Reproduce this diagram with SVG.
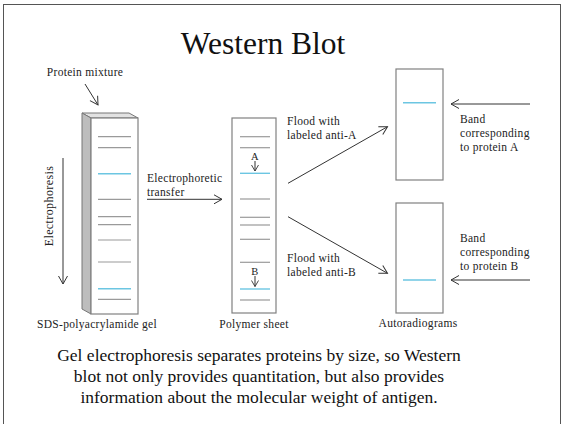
<svg xmlns="http://www.w3.org/2000/svg" width="564" height="424" viewBox="0 0 564 424">
<defs>
<marker id="ah" markerUnits="userSpaceOnUse" markerWidth="12" markerHeight="12" refX="9" refY="5" orient="auto" viewBox="0 0 12 10">
<path d="M1,0.5 L9,5 L1,9.5" fill="none" stroke="#333" stroke-width="1"/>
</marker>
<marker id="ahs" markerUnits="userSpaceOnUse" markerWidth="10" markerHeight="10" refX="7" refY="4" orient="auto" viewBox="0 0 10 8">
<path d="M1,0.5 L7,4 L1,7.5" fill="none" stroke="#333" stroke-width="0.9"/>
</marker>
<style>
.lbl{font-family:"Liberation Serif","Times New Roman",serif;font-size:11.5px;letter-spacing:0.3px;fill:#222}
.band{stroke:#9a9a9a;stroke-width:1.2}
.blue{stroke:#6cc6e2;stroke-width:1.4}
.sheet{fill:#fff;stroke:#808080;stroke-width:1.2}
.conn{stroke:#333;stroke-width:1;fill:none}
</style>
</defs>
<rect x="0" y="0" width="564" height="424" fill="#fff"/>
<rect x="3.5" y="4.5" width="557" height="430" fill="#fff" stroke="#555" stroke-width="1"/>
<text x="263" y="54" text-anchor="middle" font-family="Liberation Serif,Times New Roman,serif" font-size="31.5" fill="#111">Western Blot</text>

<g id="gel">
<polygon points="82,113 129,113 138,118 91,118" fill="#e2e2e2" stroke="#777" stroke-width="1"/>
<polygon points="82,113 91,118 91,314 82,309" fill="#bdbdbd" stroke="#777" stroke-width="1"/>
<rect x="91" y="118" width="47" height="196" class="sheet"/>
<line x1="98" y1="136.7" x2="131" y2="136.7" class="band"/>
<line x1="98" y1="147.7" x2="131" y2="147.7" class="band"/>
<line x1="98" y1="173.7" x2="131" y2="173.7" class="blue"/>
<line x1="98" y1="199.3" x2="131" y2="199.3" class="band"/>
<line x1="98" y1="216.7" x2="131" y2="216.7" class="band"/>
<line x1="98" y1="224.7" x2="131" y2="224.7" class="band"/>
<line x1="98" y1="240" x2="131" y2="240" class="band"/>
<line x1="98" y1="262" x2="131" y2="262" class="band"/>
<line x1="98" y1="288.7" x2="131" y2="288.7" class="blue"/>
<line x1="98" y1="299.3" x2="131" y2="299.3" class="band"/>
<text x="97" y="328" text-anchor="middle" class="lbl">SDS-polyacrylamide gel</text>
</g>

<g id="protein-mixture">
<text x="85" y="76" text-anchor="middle" class="lbl">Protein mixture</text>
</g>

<g id="electrophoresis">
<text transform="translate(53,206) rotate(-90)" text-anchor="middle" class="lbl" style="font-size:12px;letter-spacing:0.4px">Electrophoresis</text>
</g>

<g id="polymer-sheet">
<rect x="232" y="118" width="44" height="195" class="sheet"/>
<line x1="240" y1="136.7" x2="270" y2="136.7" class="band"/>
<line x1="240" y1="147.7" x2="270" y2="147.7" class="band"/>
<line x1="240" y1="173.3" x2="270" y2="173.3" class="blue"/>
<line x1="240" y1="199" x2="270" y2="199" class="band"/>
<line x1="240" y1="217.3" x2="270" y2="217.3" class="band"/>
<line x1="240" y1="225" x2="270" y2="225" class="band"/>
<line x1="240" y1="239.3" x2="270" y2="239.3" class="band"/>
<line x1="240" y1="262.3" x2="270" y2="262.3" class="band"/>
<line x1="240" y1="289" x2="270" y2="289" class="blue"/>
<line x1="240" y1="300" x2="270" y2="300" class="band"/>
<text x="255" y="160" text-anchor="middle" class="lbl" style="font-size:10.5px">A</text>
<line x1="255" y1="161" x2="255" y2="171" class="conn" marker-end="url(#ahs)"/>
<text x="255" y="275" text-anchor="middle" class="lbl" style="font-size:10.5px">B</text>
<line x1="255" y1="276" x2="255" y2="286.5" class="conn" marker-end="url(#ahs)"/>
<text x="254" y="328" text-anchor="middle" class="lbl">Polymer sheet</text>
</g>

<g id="autoradiogram-a">
<rect x="396" y="69" width="47" height="111" class="sheet"/>
<line x1="403" y1="102.7" x2="436" y2="102.7" class="blue"/>
<text x="460" y="122.5" class="lbl">Band</text>
<text x="460" y="136.5" class="lbl">corresponding</text>
<text x="460" y="150.5" class="lbl">to protein A</text>
</g>

<g id="autoradiogram-b">
<rect x="396" y="203" width="47" height="110" class="sheet"/>
<line x1="403" y1="280" x2="436" y2="280" class="blue"/>
<text x="460" y="241.5" class="lbl">Band</text>
<text x="460" y="255.5" class="lbl">corresponding</text>
<text x="460" y="269.5" class="lbl">to protein B</text>
<text x="418" y="327" text-anchor="middle" class="lbl">Autoradiograms</text>
</g>

<g id="connectors">
<line x1="85" y1="84" x2="98" y2="105" class="conn" marker-end="url(#ah)"/>
<line x1="63" y1="158" x2="63" y2="284" class="conn" marker-end="url(#ah)"/>
<line x1="147" y1="199.3" x2="222" y2="199.3" class="conn" marker-end="url(#ah)"/>
<line x1="288" y1="183.3" x2="387.5" y2="126.7" class="conn" marker-end="url(#ah)"/>
<line x1="288" y1="216.7" x2="387.5" y2="273.3" class="conn" marker-end="url(#ah)"/>
<line x1="530" y1="104" x2="451" y2="104" class="conn" marker-end="url(#ah)"/>
<line x1="530" y1="280" x2="451" y2="280" class="conn" marker-end="url(#ah)"/>
</g>

<g id="connector-labels">
<text x="147" y="182" class="lbl">Electrophoretic</text>
<text x="147" y="196" class="lbl">transfer</text>
<text x="287" y="125" class="lbl">Flood with</text>
<text x="287" y="139.3" class="lbl">labeled anti-A</text>
<text x="287" y="261.7" class="lbl">Flood with</text>
<text x="287" y="276" class="lbl">labeled anti-B</text>
</g>

<g id="caption" font-family="Liberation Serif,Times New Roman,serif" font-size="17.5" fill="#111" text-anchor="middle">
<text x="259" y="360.5">Gel electrophoresis separates proteins by size, so Western</text>
<text x="259" y="381.5">blot not only provides quantitation, but also provides</text>
<text x="259" y="402.5">information about the molecular weight of antigen.</text>
</g>
</svg>
